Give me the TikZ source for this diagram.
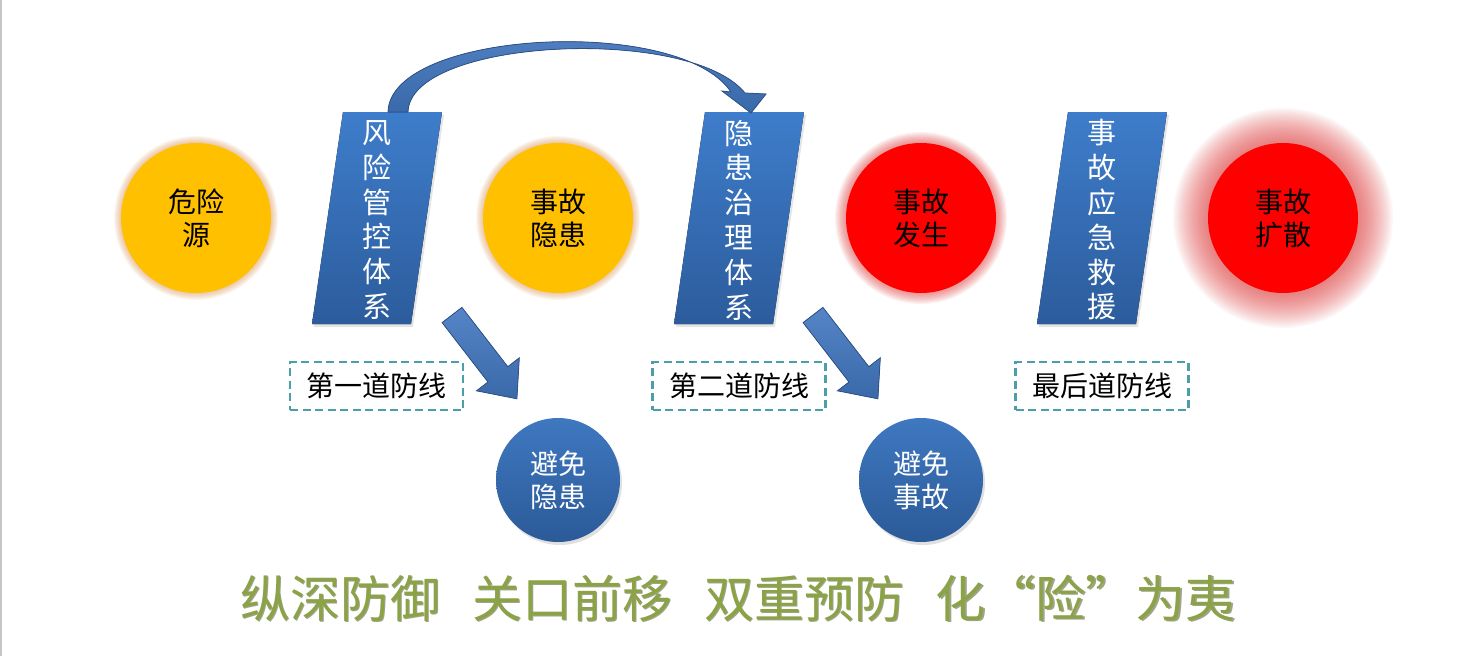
\documentclass[tikz,border=0pt]{standalone}
\usepackage{fontspec}
\newfontfamily\cjk{Noto Sans CJK SC}
\usetikzlibrary{calc}
\definecolor{yelc}{HTML}{FFC000}
\definecolor{yelglow}{HTML}{D9863A}
\definecolor{redc}{HTML}{FF0000}
\definecolor{redglow}{HTML}{E23A3A}
\definecolor{pbtop}{HTML}{3E7DCB}
\definecolor{pbbot}{HTML}{2C5C9C}
\definecolor{bctop}{HTML}{3F78C0}
\definecolor{bcbot}{HTML}{2B5A98}
\definecolor{arrtop}{HTML}{5585C6}
\definecolor{arrbot}{HTML}{3A69AA}
\definecolor{arredge}{HTML}{2E5288}
\definecolor{tealdash}{HTML}{4C9FA8}
\definecolor{olivetxt}{HTML}{8CA247}
\definecolor{oliveshd}{HTML}{4E5B2A}
\newcommand\glowat[6]{%
  \foreach \k in {1,...,#5}{\fill[#4, opacity=#6] (#1) circle ({#2+#3*\k/#5});}}
\begin{document}
\begin{tikzpicture}[x=1pt,y=-1pt,
  bigc/.style={circle, minimum size=150pt, inner sep=0pt, align=center,
    font=\cjk\fontsize{28}{33}\selectfont, text=black},
  bluec/.style={circle, minimum size=124pt, inner sep=0pt, align=center,
    top color=bctop, bottom color=bcbot, text=white,
    font=\cjk\fontsize{28}{33}\selectfont},
  vtext/.style={align=center, text=white, inner sep=0pt,
    font=\cjk\fontsize{29}{34.8}\selectfont},
  dashbox/.style={draw=tealdash, line width=2.2pt, dash pattern=on 8pt off 4.5pt,
    minimum width=173pt, minimum height=48pt, inner sep=0pt,
    font=\cjk\fontsize{28}{33}\selectfont, text=black},
  parashape/.style={top color=pbtop, bottom color=pbbot},
  blockarr/.style={top color=arrtop, bottom color=arrbot, draw=arredge, line width=0.8pt},
  diagarr/.pic={
    \fill[blockarr] (9.9,-7.6) -- (55.8,51.7) -- (67.3,42.8) -- (64.9,83.8)
      -- (24.5,75.8) -- (36,67) -- (-9.9,7.6) -- cycle;
  }]
\useasboundingbox (0,0) rectangle (1468,656);
\fill[white] (0,0) rectangle (1468,656);
\draw[gray!45, line width=1.5pt] (1,0) -- (1,656);

% circle centres
\coordinate (c1) at (196,218);
\coordinate (c2) at (558,218);
\coordinate (c3) at (921,218);
\coordinate (c4) at (1283,218);

% glows
\glowat{c1}{74}{8}{yelglow}{8}{0.07}
\glowat{c2}{74}{8}{yelglow}{8}{0.07}
\glowat{c3}{72}{14}{redglow}{12}{0.07}
\glowat{c4}{72}{38}{redglow}{22}{0.045}

% upper circles
\node[bigc, fill=yelc] (hazard) at (c1) {危险\\源};
\node[bigc, fill=yelc] (hidden) at (c2) {事故\\隐患};
\node[bigc, fill=redc] (occur) at (c3) {事故\\发生};
\node[bigc, fill=redc] (spread) at (c4) {事故\\扩散};

% parallelograms (shadow + body)
\foreach \dx in {0,362,725}{
  \fill[black, opacity=0.10] ($(345,115)+(\dx,0)$) -- ($(444,115)+(\dx,0)$)
     -- ($(413,327)+(\dx,0)$) -- ($(314,327)+(\dx,0)$) -- cycle;
}
\fill[parashape] (343,112) -- (442,112) -- (411,324) -- (312,324) -- cycle;
\fill[parashape] (705,112) -- (804,112) -- (773,324) -- (674,324) -- cycle;
\fill[parashape] (1068,112) -- (1167,112) -- (1136,324) -- (1037,324) -- cycle;
\node[vtext] (risk) at (377,220) {风\\险\\管\\控\\体\\系};
\node[vtext] (treat) at (739,220) {隐\\患\\治\\理\\体\\系};
\node[vtext] (rescue) at (1102,220) {事\\故\\应\\急\\救\\援};

% curved block arrow from risk system to hazard treatment system
\coordinate (ca1) at (388,112);
\coordinate (ca2) at (408,112);
\coordinate (cahead) at (751,113);
\fill[blockarr] (ca1) .. controls (390,30) and (680,15) .. (731,92)
  -- (722,91) -- (cahead) -- (766,94) -- (745,93)
  .. controls (690,25) and (410,38) .. (ca2) -- cycle;

% diagonal block arrows
\pic at (452,315) {diagarr};
\pic at (813,315) {diagarr};

% dashed labels
\node[dashbox] (line1) at (376.5,386) {第一道防线};
\node[dashbox] (line2) at (739,386) {第二道防线};
\node[dashbox] (line3) at (1102,386) {最后道防线};

% lower blue circles
\fill[black, opacity=0.12] (560,483) circle (62);
\fill[black, opacity=0.12] (923,483) circle (62);
\node[bluec] (avoid1) at (558,480) {避免\\隐患};
\node[bluec] (avoid2) at (921,480) {避免\\事故};

% slogan
\newcommand\slogantext{纵深防御\hspace{32pt}关口前移\hspace{32pt}双重预防\hspace{32pt}化\makebox[50pt][r]{“}险\makebox[50pt][l]{”}为夷}
\node[text=oliveshd, opacity=0.55, inner sep=0pt, font=\cjk\fontsize{50}{55}\selectfont] at (739.8,599.8) {\slogantext};
\node[text=olivetxt, inner sep=0pt, font=\cjk\fontsize{50}{55}\selectfont] (slogan) at (738,598) {\slogantext};
\end{tikzpicture}
\end{document}
